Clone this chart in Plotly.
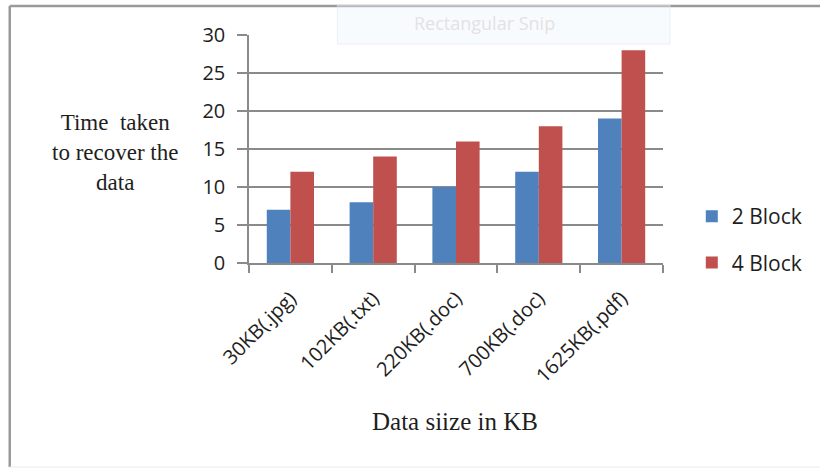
import plotly.graph_objects as go

# Recovery time per file size, for 2-block and 4-block storage
categories = ["30KB(.jpg)", "102KB(.txt)", "220KB(.doc)", "700KB(.doc)", "1625KB(.pdf)"]
block2 = [7, 8, 10, 12, 19]
block4 = [12, 14, 16, 18, 28]
series_names = ["2 Block", "4 Block"]
y_ticks = [0, 5, 10, 15, 20, 25, 30]

W, H = 820, 468
L, R, T, B = 249, 820 - 666, 35, 468 - 263
PW, PH = W - L - R, H - T - B


def px(x):
    return (x - L) / PW


def py(y):
    return (H - B - y) / PH


GRID = "#8a8a8a"
TEXT = "#1e1e1e"
SANS = "Open Sans"
SERIF = "Liberation Serif"

fig = go.Figure()
fig.add_trace(go.Bar(x=categories, y=block2, name=series_names[0],
                     marker=dict(color="#4F81BD", line=dict(width=0)),
                     legendgroup="a"))
fig.add_trace(go.Bar(x=categories, y=block4, name=series_names[1],
                     marker=dict(color="#C0504D", line=dict(width=0)),
                     legendgroup="b"))

fig.update_layout(
    width=W, height=H,
    margin=dict(l=L, r=R, t=T, b=B),
    paper_bgcolor="white", plot_bgcolor="white",
    barmode="group", bargap=0.43, bargroupgap=0,
    showlegend=True,
    legend=dict(x=px(695), y=py(196), xanchor="left", yanchor="top",
                font=dict(family=SANS, size=21, color=TEXT),
                tracegroupgap=16, bgcolor="rgba(0,0,0,0)"),
    xaxis=dict(
        tickangle=-45, tickfont=dict(family=SANS, size=20, color=TEXT),
        showgrid=False,
        showline=True, linecolor=GRID, linewidth=1.5,
        ticks="outside", tickson="boundaries", ticklen=8,
        tickcolor=GRID, tickwidth=1.5, ticklabelstandoff=14,
    ),
    yaxis=dict(
        range=[0, 30], tickvals=y_ticks,
        tickfont=dict(family=SANS, size=20, color=TEXT),
        showgrid=True, gridcolor=GRID, gridwidth=1.5,
        showline=True, linecolor=GRID, linewidth=1.5,
        ticks="outside", ticklen=10, tickcolor=GRID, tickwidth=1.5,
        zeroline=False, ticklabelstandoff=8,
    ),
    font=dict(family=SANS, color=TEXT),
)

# Outer chart frame: left and top edges solid, bottom edge barely visible
fig.add_shape(type="line", xref="paper", yref="paper",
              x0=px(8), x1=px(8), y0=py(467), y1=py(6),
              line=dict(color="#9a9a9a", width=2.5))
fig.add_shape(type="line", xref="paper", yref="paper",
              x0=px(8), x1=px(830), y0=py(6), y1=py(6),
              line=dict(color="#9a9a9a", width=2.5))
fig.add_shape(type="line", xref="paper", yref="paper",
              x0=px(8), x1=px(830), y0=py(467), y1=py(467),
              line=dict(color="#ececec", width=1))

# Axis titles
fig.add_annotation(xref="paper", yref="paper", x=px(114), y=py(152),
                   text="Time  taken<br>to recover the<br>data", showarrow=False,
                   font=dict(family=SERIF, size=23, color=TEXT),
                   align="center", xanchor="center", yanchor="middle")
fig.add_annotation(xref="paper", yref="paper", x=px(456), y=py(422),
                   text="Data siize in KB", showarrow=False,
                   font=dict(family=SERIF, size=25, color=TEXT),
                   xanchor="center", yanchor="middle")

# Faint snipping-tool caption box across the top
fig.add_shape(type="rect", xref="paper", yref="paper",
              x0=px(338), x1=px(673), y0=py(44), y1=py(5),
              line=dict(color="rgba(220,232,245,0.6)", width=1),
              fillcolor="rgba(235,243,252,0.35)", layer="above")
fig.add_annotation(xref="paper", yref="paper", x=px(486), y=py(23),
                   text="Rectangular Snip", showarrow=False,
                   font=dict(family=SANS, size=18, color="#e2e2e2"),
                   xanchor="center", yanchor="middle")

fig.write_html("out.html")
